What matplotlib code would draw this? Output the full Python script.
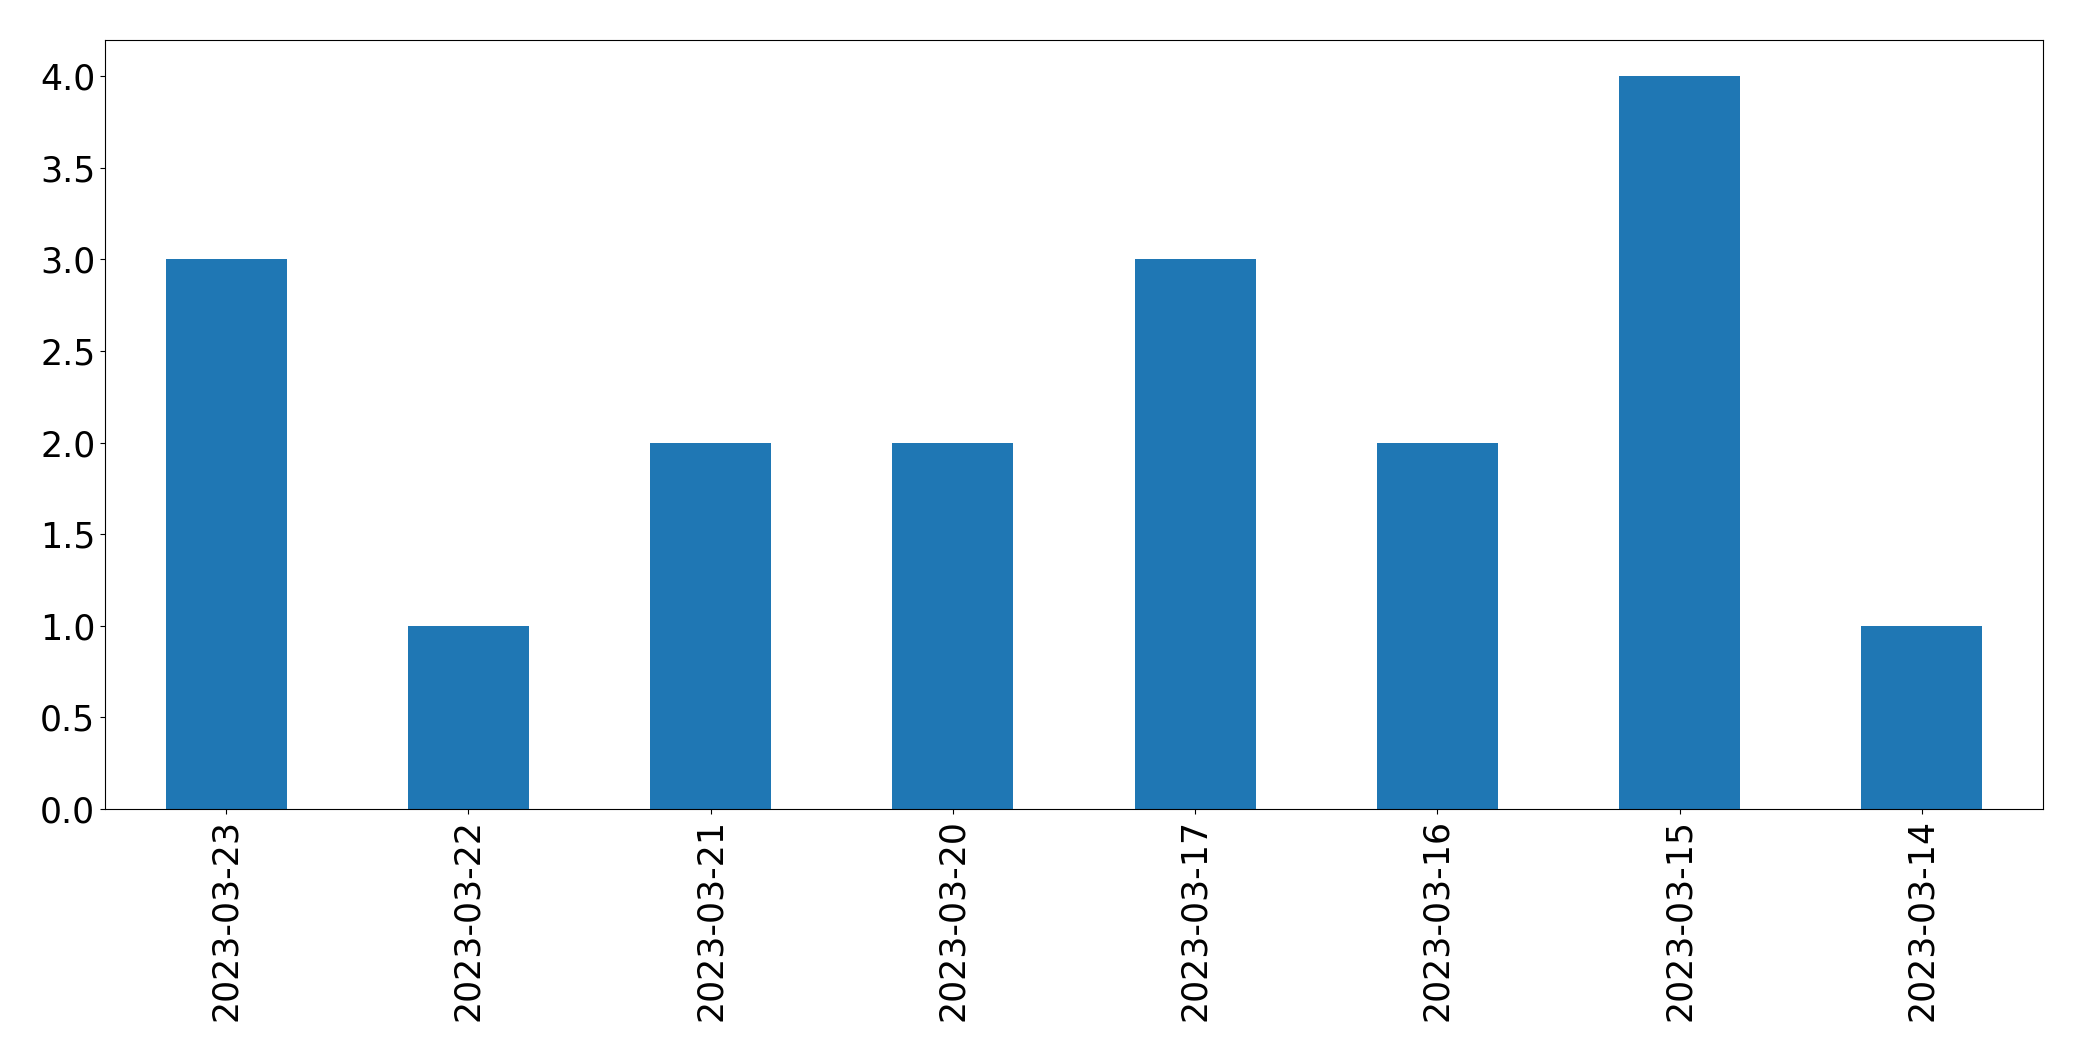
import pandas as pd
import matplotlib.pyplot as plt

# dates (newest first) and counts per day
dates = ['2023-03-23', '2023-03-22', '2023-03-21', '2023-03-20',
         '2023-03-17', '2023-03-16', '2023-03-15', '2023-03-14']
counts = [3, 1, 2, 2, 3, 2, 4, 1]

s = pd.Series(counts, index=dates)

fig = plt.figure(figsize=(20.82, 10.61), dpi=100)
ax = fig.add_subplot(111)
s.plot(kind='bar', ax=ax, color='#1f77b4', fontsize=25)
ax.tick_params(axis='both', labelsize=25)
fig.subplots_adjust(left=105 / 2082, right=2043 / 2082,
                    top=1 - 39.5 / 1061, bottom=1 - 809 / 1061)
fig.savefig('out.png', dpi=100)
